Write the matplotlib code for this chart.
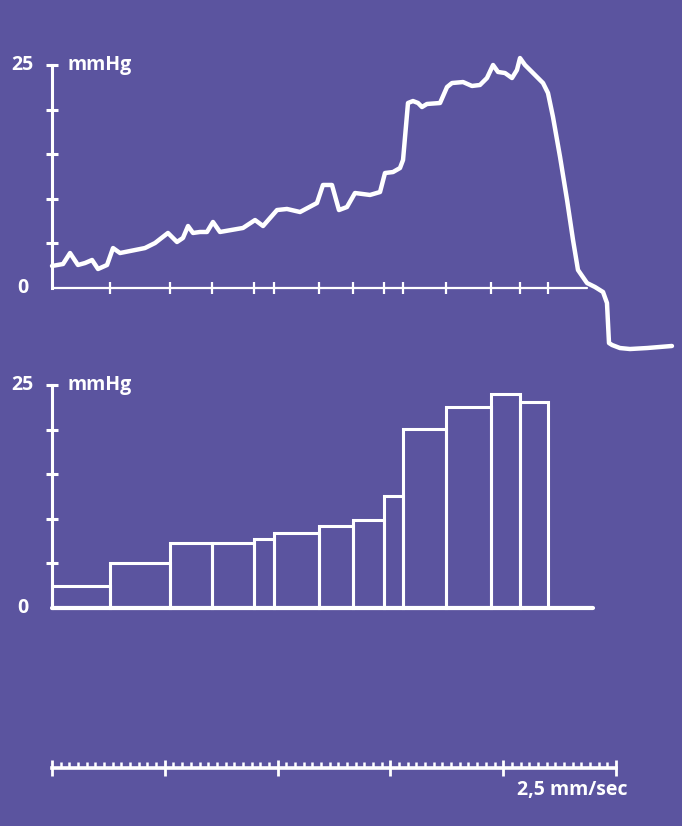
import numpy as np
import matplotlib.pyplot as plt

bg = '#5b549f'
white = 'white'
plt.rcParams['font.family'] = ['Open Sans', 'DejaVu Sans']

# pressure trace, time in s, pressure in mmHg
trace_t = np.array([0.000, 0.098, 0.160, 0.230, 0.293, 0.355, 0.408, 0.488, 0.541, 0.603,
                    0.824, 0.913, 1.028, 1.108, 1.161, 1.206, 1.250, 1.312, 1.374, 1.427,
                    1.489, 1.693, 1.800, 1.871, 1.995, 2.083, 2.199, 2.349, 2.402, 2.482,
                    2.544, 2.615, 2.686, 2.819, 2.908, 2.952, 3.023, 3.085, 3.112, 3.156,
                    3.200, 3.245, 3.280, 3.324, 3.440, 3.502, 3.546, 3.644, 3.723, 3.794,
                    3.856, 3.910, 3.954, 4.016, 4.078, 4.122, 4.149, 4.193, 4.255, 4.300,
                    4.353, 4.397, 4.441, 4.504, 4.566, 4.619, 4.663, 4.743, 4.814, 4.885,
                    4.920, 4.938, 4.965, 5.035, 5.124, 5.275, 5.496])
trace_p = np.array([2.47, 2.69, 3.92, 2.58, 2.80, 3.14, 2.13, 2.58, 4.48, 3.92,
                    4.48, 5.04, 6.17, 5.16, 5.61, 6.95, 6.17, 6.28, 6.28, 7.40,
                    6.28, 6.73, 7.62, 6.95, 8.74, 8.86, 8.52, 9.53, 11.55, 11.55,
                    8.74, 9.08, 10.65, 10.43, 10.76, 12.89, 13.00, 13.45, 14.35, 20.74,
                    20.96, 20.74, 20.29, 20.63, 20.74, 22.53, 22.98, 23.09, 22.65, 22.76,
                    23.54, 25.00, 24.22, 24.10, 23.54, 24.44, 25.78, 25.00, 24.22, 23.65,
                    22.98, 21.86, 19.20, 14.69, 9.87, 5.38, 2.02, 0.56, 0.11, -0.45,
                    -1.68, -6.17, -6.39, -6.73, -6.84, -6.73, -6.50])

# segment boundaries (s) and mean pressure per segment (mmHg)
edges = np.array([0.0, 0.51, 1.05, 1.42, 1.79, 1.965, 2.365, 2.665, 2.945, 3.115,
                  3.495, 3.89, 4.15, 4.395])
means = np.array([2.5, 5.0, 7.3, 7.3, 7.7, 8.4, 9.2, 9.9, 12.6, 20.1, 22.5, 24.0, 23.1])

yticks = [5, 10, 15, 20, 25]
scale_major = np.arange(0, 6)
scale_minor = np.linspace(0, 5, 66)

fig = plt.figure(figsize=(6.82, 8.26), dpi=100, facecolor=bg)

xl = (-52 / 112.8, 630 / 112.8)
fs = 14


def setup_axis(ax, ylim, xend, lw_x):
    ax.set_facecolor(bg)
    ax.set_xlim(xl)
    ax.set_ylim(ylim)
    for s in ['top', 'right']:
        ax.spines[s].set_visible(False)
    ax.spines['left'].set_position(('data', 0))
    ax.spines['bottom'].set_position(('data', 0))
    ax.spines['left'].set_bounds(0, 25)
    ax.spines['bottom'].set_bounds(0, xend)
    ax.spines['left'].set_color(white)
    ax.spines['bottom'].set_color(white)
    ax.spines['left'].set_linewidth(2.2)
    ax.spines['bottom'].set_linewidth(lw_x)
    ax.spines['bottom'].set_capstyle('round')
    ax.set_yticks(yticks)
    ax.set_yticklabels([])
    ax.tick_params(axis='y', direction='inout', length=9, width=2.2, color=white)
    ax.text(-0.16, 25, '25', color=white, fontsize=fs, fontweight='bold',
            ha='right', va='center')
    ax.text(0.14, 25, 'mmHg', color=white, fontsize=fs, fontweight='bold',
            ha='left', va='center')
    ax.text(-0.26, 0, '0', color=white, fontsize=fs, fontweight='bold',
            ha='center', va='center')


# top: raw pressure recording
ax1 = fig.add_axes([0, 1 - 360 / 826, 1, 360 / 826])
setup_axis(ax1, (-72 / 8.92, 288 / 8.92), 4.74, 1.6)
ax1.set_xticks(edges[1:])
ax1.set_xticklabels([])
ax1.tick_params(axis='x', direction='inout', length=9, width=1.6, color=white)
ax1.plot(trace_t, trace_p, color=white, lw=3.2, solid_joinstyle='round',
         solid_capstyle='round')

# middle: segment means as bars
ax2 = fig.add_axes([0, 126 / 826, 1, 340 / 826])
setup_axis(ax2, (-92 / 8.92, 248 / 8.92), 4.8, 3.0)
ax2.set_xticks([])
ax2.bar(edges[:-1], means, width=np.diff(edges), align='edge', facecolor='none',
        edgecolor=white, linewidth=2.2)

# bottom: time scale
ax3 = fig.add_axes([0, 0, 1, 126 / 826])
ax3.set_facecolor(bg)
ax3.set_xlim(xl)
ax3.set_ylim(0, 1)
for s in ['top', 'right', 'left']:
    ax3.spines[s].set_visible(False)
ax3.spines['bottom'].set_position(('data', 58 / 126))
ax3.spines['bottom'].set_bounds(0, 5)
ax3.spines['bottom'].set_color(white)
ax3.spines['bottom'].set_linewidth(2.6)
ax3.set_yticks([])
ax3.set_xticks(scale_major)
ax3.set_xticks(scale_minor, minor=True)
ax3.set_xticklabels([])
ax3.tick_params(axis='x', which='major', direction='inout', length=11, width=2.0,
                color=white)
ax3.tick_params(axis='x', which='minor', direction='in', length=4, width=1.8,
                color=white)
ax3.text(5.1, 36 / 126, '2,5 mm/sec', color=white, fontsize=fs, fontweight='bold',
         ha='right', va='center')

fig.savefig('out.png', dpi=100, facecolor=bg)
